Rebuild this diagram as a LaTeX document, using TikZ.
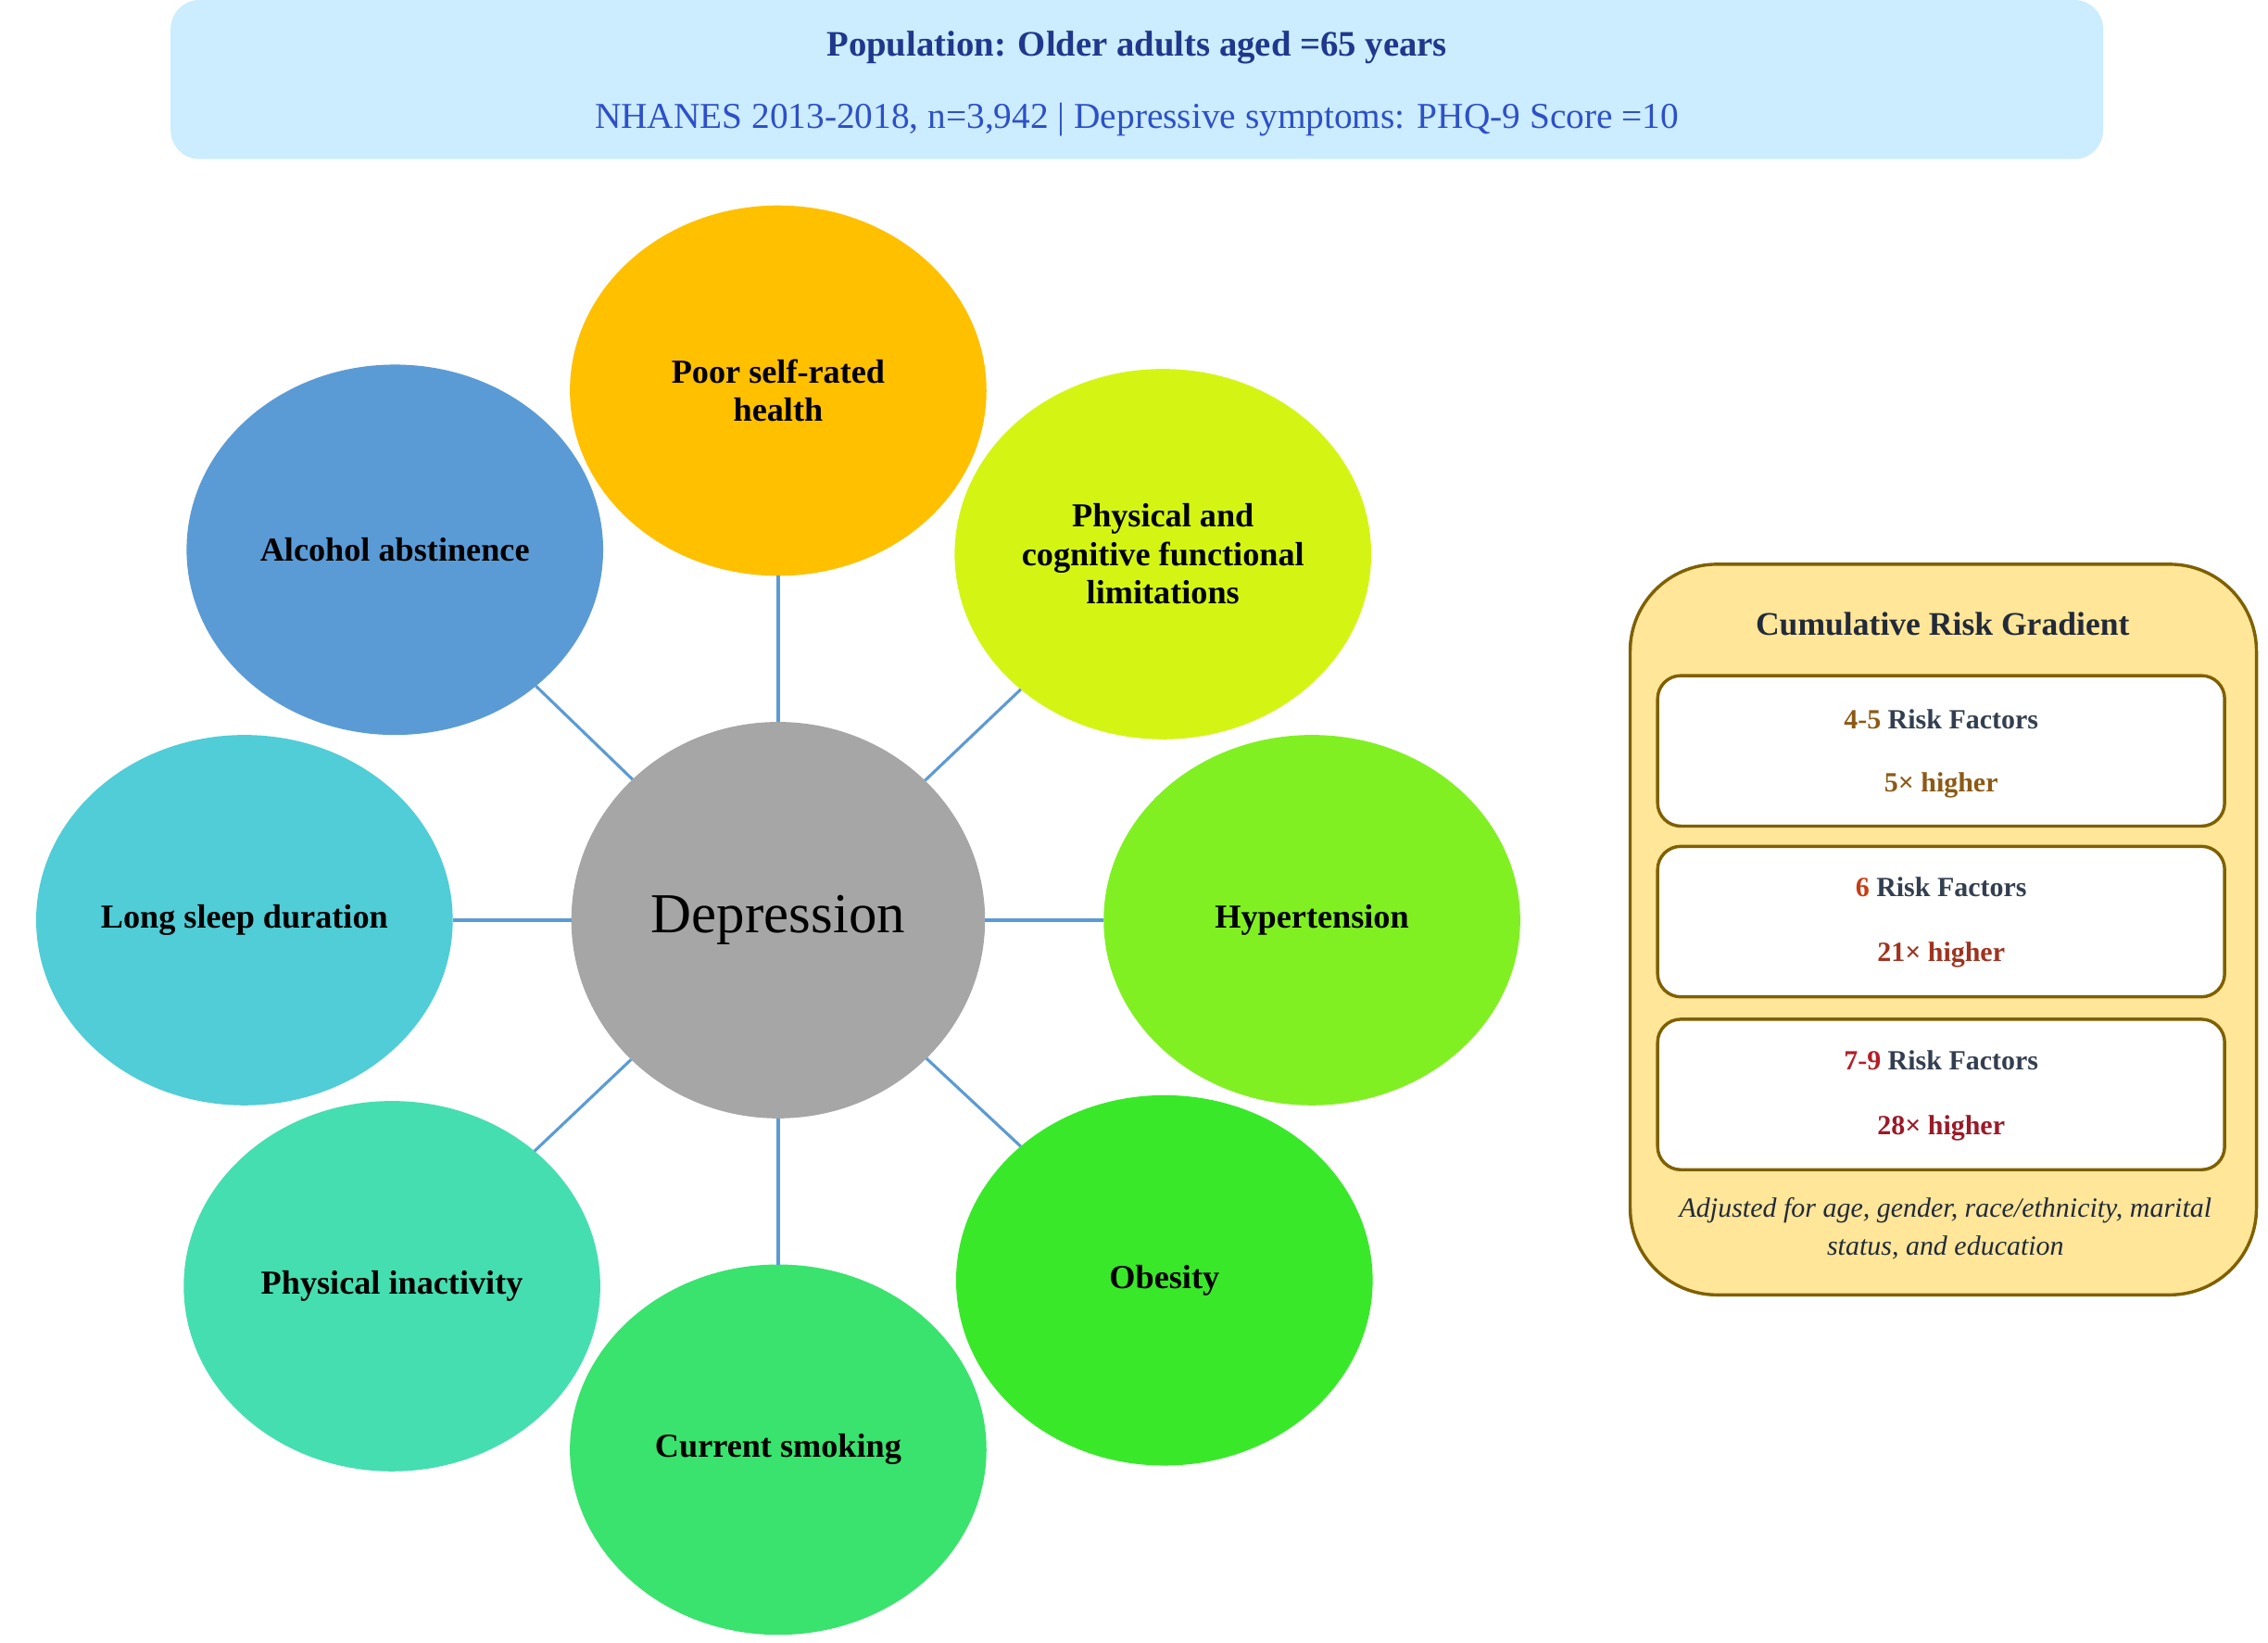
\documentclass[tikz,border=0pt]{standalone}
\usepackage{fontspec}
\setmainfont{Liberation Serif}
\usetikzlibrary{shapes.geometric}

\definecolor{bannerfill}{RGB}{204,236,255}
\definecolor{bannertitle}{RGB}{31,56,140}
\definecolor{bannertext}{RGB}{45,80,200}
\definecolor{hubgray}{RGB}{166,166,166}
\definecolor{linkblue}{RGB}{91,155,213}
\definecolor{srhcol}{RGB}{255,192,0}
\definecolor{funccol}{RGB}{212,245,20}
\definecolor{htncol}{RGB}{128,240,35}
\definecolor{obecol}{RGB}{58,232,42}
\definecolor{smokecol}{RGB}{57,227,110}
\definecolor{inactcol}{RGB}{69,222,176}
\definecolor{sleepcol}{RGB}{80,205,214}
\definecolor{alcocol}{RGB}{91,155,213}
\definecolor{panelfill}{RGB}{255,230,153}
\definecolor{panelline}{RGB}{127,96,0}
\definecolor{paneltitle}{RGB}{34,42,58}
\definecolor{slate}{RGB}{51,63,80}
\definecolor{lowrisk}{RGB}{140,90,20}
\definecolor{midnum}{RGB}{200,60,20}
\definecolor{midrisk}{RGB}{160,50,30}
\definecolor{highnum}{RGB}{180,30,40}
\definecolor{highrisk}{RGB}{155,25,40}

\tikzset{every picture/.style={line width=0.75pt}}
\tikzset{
  factor/.style={ellipse, minimum width=144pt, minimum height=128pt, inner sep=0pt, outer sep=0pt,
    align=center, font=\fontsize{11.6}{13.3}\selectfont\bfseries},
  hub/.style={ellipse, fill=hubgray, minimum width=143pt, minimum height=137pt, inner sep=0pt,
    outer sep=0pt, font=\fontsize{19.5}{22}\selectfont},
  link/.style={draw=linkblue, line width=1pt},
  banner/.style={fill=bannerfill, rounded corners=10pt, minimum width=668pt, minimum height=55pt},
  panel/.style={draw=panelline, fill=panelfill, line width=1.1pt, rounded corners=30pt,
    minimum width=216.5pt, minimum height=252.5pt},
  riskbox/.style={draw=panelline, fill=white, line width=1.1pt, rounded corners=8pt,
    minimum width=196pt, minimum height=52pt},
  risktext/.style={inner sep=0pt, font=\fontsize{9.6}{11}\selectfont\bfseries}
}

\begin{document}
\begin{tikzpicture}[x=0.5pt,y=0.5pt,yscale=-1,xscale=1]
\useasboundingbox (0,0) rectangle (1568,1135.6);

%Shape: Rectangle (study banner)
\node [banner] (banner) at (786,55) {};
% Text Node
\node [inner sep=0pt, text=bannertitle, font=\fontsize{12.4}{14}\selectfont\bfseries] (popTitle) at (786,33) {Population: Older adults aged =65 years};
% Text Node
\node [inner sep=0pt, text=bannertext, font=\fontsize{12.6}{14}\selectfont] (popInfo) at (786,83) {NHANES 2013-2018, n=3,942 | Depressive symptoms: PHQ-9 Score =10};

%Shape: Ellipse (outcome)
\node [hub] (depression) at (538,636) {Depression};

%Shape: Ellipse (risk factors)
\node [factor, fill=srhcol] (selfRated) at (538,270) {Poor self-rated\\health};
\node [factor, fill=funccol] (funcLimit) at (804,383) {Physical and\\cognitive functional\\limitations};
\node [factor, fill=htncol] (hypertension) at (907,636) {Hypertension};
\node [factor, fill=obecol] (obesity) at (805,885) {Obesity};
\node [factor, fill=smokecol] (smoking) at (538,1002) {Current smoking};
\node [factor, fill=inactcol] (inactivity) at (271,889) {Physical inactivity};
\node [factor, fill=sleepcol] (longSleep) at (169,636) {Long sleep duration};
\node [factor, fill=alcocol] (alcohol) at (273,380) {Alcohol abstinence};

%Straight Lines
\draw [link] (depression) -- (selfRated);
\draw [link] (depression) -- (funcLimit);
\draw [link] (depression) -- (hypertension);
\draw [link] (depression) -- (obesity);
\draw [link] (depression) -- (smoking);
\draw [link] (depression) -- (inactivity);
\draw [link] (depression) -- (longSleep);
\draw [link] (depression) -- (alcohol);

%Shape: Rectangle (gradient panel)
\node [panel] (gradient) at (1343.5,642.5) {};
% Text Node
\node [inner sep=0pt, text=paneltitle, font=\fontsize{11.4}{13}\selectfont\bfseries] (gradTitle) at (1343,431) {Cumulative Risk Gradient};

%Shape: Rectangle
\node [riskbox] (lowBox) at (1342,519) {};
\node [risktext, text=slate] (lowCount) at (1342,497) {\textcolor{lowrisk}{4-5} Risk Factors};
\node [risktext, text=lowrisk] (lowOdds) at (1342,543) {5× higher};
%Shape: Rectangle
\node [riskbox] (midBox) at (1342,637) {};
\node [risktext, text=slate] (midCount) at (1342,613) {\textcolor{midnum}{6} Risk Factors};
\node [risktext, text=midrisk] (midOdds) at (1342,660) {21× higher};
%Shape: Rectangle
\node [riskbox] (highBox) at (1342,756.5) {};
\node [risktext, text=slate] (highCount) at (1342,733) {\textcolor{highnum}{7-9} Risk Factors};
\node [risktext, text=highrisk] (highOdds) at (1342,780) {28× higher};

% Text Node
\node [inner sep=0pt, align=center, text=paneltitle, font=\fontsize{9.6}{13}\selectfont\itshape] (adjNote) at (1345,849) {Adjusted for age, gender, race/ethnicity, marital\\status, and education};

\end{tikzpicture}
\end{document}
